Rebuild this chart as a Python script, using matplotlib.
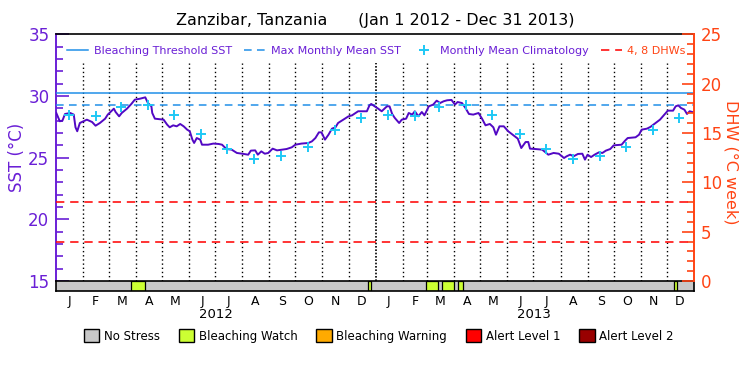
import numpy as np
import matplotlib
matplotlib.use('Agg')
import matplotlib.pyplot as plt
import matplotlib.dates as mdates
from matplotlib.lines import Line2D
from matplotlib.patches import Patch
from matplotlib.ticker import MultipleLocator

# ---------------- data ----------------
title = "Zanzibar, Tanzania      (Jan 1 2012 - Dec 31 2013)"
start_date = np.datetime64('2012-01-01')
end_date = np.datetime64('2014-01-01')

# days since Jan 1 2012 and daily SST (deg C)
sst_days = [0, 4, 7, 10, 16, 20, 22, 24, 27, 31, 35, 41, 45, 50, 56, 59, 63, 66, 68, 72,
            75, 81, 86, 90, 96, 102, 105, 109, 110, 113, 123, 127, 130, 134, 138, 142, 146,
            150, 153, 156, 158, 161, 165, 167, 174, 180, 186, 190, 195, 201, 207, 213, 220,
            223, 228, 231, 235, 239, 243, 248, 253, 259, 264, 270, 274, 281, 289, 293, 297,
            301, 304, 308, 312, 316, 320, 323, 329, 335, 339, 343, 346, 356, 359, 361, 365,
            369, 373, 379, 382, 385, 388, 393, 396, 401, 404, 408, 411, 415, 419, 422, 427,
            432, 436, 440, 444, 448, 453, 457, 460, 465, 469, 473, 478, 484, 488, 492, 497,
            501, 504, 508, 513, 518, 524, 529, 533, 538, 541, 543, 549, 557, 564, 570, 576,
            582, 585, 589, 593, 598, 603, 606, 609, 613, 617, 622, 626, 630, 635, 639, 648,
            652, 655, 664, 668, 671, 677, 681, 687, 692, 696, 701, 707, 710, 713, 716, 720,
            723, 726, 730]
sst_values = [28.62, 27.95, 28.00, 28.54, 28.62, 28.49, 27.46, 27.14, 27.81, 27.95, 28.08,
              27.89, 27.59, 27.81, 28.16, 28.49, 28.76, 28.97, 28.70, 28.35, 28.62, 28.97,
              29.35, 29.70, 29.78, 29.89, 29.43, 29.16, 28.62, 28.16, 28.08, 27.68, 27.46,
              27.62, 27.54, 27.73, 27.54, 27.27, 27.14, 26.46, 26.19, 26.59, 26.46, 26.05,
              26.05, 26.14, 26.11, 26.05, 25.70, 25.65, 25.38, 25.32, 25.24, 25.57, 25.59,
              25.24, 25.51, 25.32, 25.38, 25.73, 25.59, 25.65, 25.70, 25.84, 26.05, 26.14,
              26.19, 26.32, 26.59, 27.05, 27.05, 26.46, 26.86, 27.35, 27.46, 27.81, 28.08,
              28.35, 28.43, 28.62, 28.76, 28.76, 29.24, 29.35, 29.16, 28.97, 28.76, 29.16,
              29.16, 28.54, 28.22, 27.81, 28.08, 28.16, 28.62, 28.49, 28.76, 28.35, 28.70,
              28.43, 29.16, 29.30, 29.62, 29.43, 29.57, 29.65, 29.68, 29.30, 29.51, 29.43,
              29.03, 28.54, 28.49, 28.62, 28.16, 27.62, 27.73, 27.46, 26.86, 27.54, 27.54,
              27.14, 26.81, 26.54, 25.78, 26.27, 26.27, 25.73, 25.70, 25.65, 25.24, 25.38,
              25.32, 24.97, 25.11, 25.24, 25.11, 25.30, 25.32, 24.84, 25.24, 25.05, 25.24,
              25.43, 25.38, 25.57, 25.70, 26.00, 26.05, 26.38, 26.59, 26.65, 26.86, 27.27,
              27.35, 27.49, 27.81, 28.08, 28.41, 28.81, 28.81, 29.16, 29.24, 29.03, 28.89,
              28.54, 28.76, 28.68]

# monthly mean climatology (Jan..Dec)
clim_values = [28.45, 28.40, 29.08, 29.26, 28.44, 26.92, 25.70, 24.87, 25.10, 25.83, 27.28, 28.21]
mmm_sst = 29.26
threshold_sst = 30.26
dhw_levels = [4, 8]

# bleaching alert strip
alert_starts = ['2012-03-27', '2012-12-23', '2013-02-28', '2013-03-18', '2013-04-05', '2013-12-09']
alert_ends = ['2012-04-12', '2012-12-27', '2013-03-14', '2013-04-01', '2013-04-11', '2013-12-13']
alert_levels = ['Bleaching Watch'] * 6

alert_names = ['No Stress', 'Bleaching Watch', 'Bleaching Warning', 'Alert Level 1', 'Alert Level 2']
alert_colors = ['#c8c8c8', '#ccff33', '#ffaa00', '#ff0000', '#990000']

month_labels = ['J', 'F', 'M', 'A', 'M', 'J', 'J', 'A', 'S', 'O', 'N', 'D'] * 2
year_labels = ['2012', '2013']

# ---------------- style ----------------
purple = '#6a1fd6'
line_purple = '#5208c4'
orange = '#ff4414'
blue = '#2090e8'
cyan = '#1ec8f5'
red = '#ff1010'

plt.rcParams['font.family'] = ['DejaVu Sans']

W, H = 750, 375
fig = plt.figure(figsize=(7.5, 3.75), dpi=100)
L, R, T, B = 56.3, 694.0, 34.3, 281.0
SB = 290.5
ax = fig.add_axes([L / W, 1 - B / H, (R - L) / W, (B - T) / H])
strip = fig.add_axes([L / W, 1 - SB / H, (R - L) / W, (SB - B) / H])
ax2 = ax.twinx()

x0 = mdates.date2num(start_date)
x1 = mdates.date2num(end_date)

# SST series
sst_x = mdates.date2num(start_date + np.array(sst_days).astype('timedelta64[D]'))
ax.plot(sst_x, sst_values, color=line_purple, lw=1.4, zorder=5)

# thresholds
ax.axhline(threshold_sst, color=blue, lw=1.1, zorder=3)
ax.axhline(mmm_sst, color=blue, lw=1.1, ls=(0, (5, 3.5)), zorder=3)

# climatology crosses at mid-month
month_starts = np.arange('2012-01', '2014-02', dtype='datetime64[M]').astype('datetime64[D]')
mids = month_starts[:-1] + (month_starts[1:] - month_starts[:-1]) // 2
mids_num = mdates.date2num(mids)
clim_x = mdates.date2num(month_starts[:-1] + np.timedelta64(14, 'D'))
ax.plot(clim_x, clim_values * 2, ls='none', marker='+', ms=7, mew=1.4, color=cyan, zorder=6)

# vertical dotted month lines
bounds = mdates.date2num(month_starts[1:-1])
year_line = mdates.date2num(np.datetime64('2013-01-01'))
ax.vlines([b for b in bounds if b != year_line], 15, 32.7, colors='black', lw=1.0,
          linestyles=(0, (1, 2)), zorder=2)
ax.vlines([year_line], 15, 32.7, colors='black', lw=1.2, linestyles=(0, (1, 1)), zorder=2)

ax.set_xlim(x0, x1)
ax.set_ylim(15, 35)
ax.set_xticks([])
ax.yaxis.set_major_locator(MultipleLocator(5))
ax.yaxis.set_minor_locator(MultipleLocator(1))
ax.tick_params(axis='y', which='both', direction='in', colors=purple, labelsize=12, pad=5)
ax.tick_params(axis='y', which='major', length=9, width=1.2)
ax.tick_params(axis='y', which='minor', length=5, width=1.2)
ax.spines['left'].set_color(purple)
ax.spines['left'].set_linewidth(1.4)
ax.spines['right'].set_visible(False)
ax.spines['top'].set_linewidth(1.2)
ax.spines['bottom'].set_visible(False)

# DHW axis
for lv in dhw_levels:
    ax2.axhline(lv, color=red, lw=1.2, ls=(0, (5, 3.5)))
ax2.set_ylim(0, 25)
ax2.yaxis.set_major_locator(MultipleLocator(5))
ax2.yaxis.set_minor_locator(MultipleLocator(1))
ax2.tick_params(axis='y', which='both', direction='in', colors=orange, labelsize=12, pad=5)
ax2.tick_params(axis='y', which='major', length=9, width=1.2)
ax2.tick_params(axis='y', which='minor', length=5, width=1.2)
for s in ['left', 'top', 'bottom']:
    ax2.spines[s].set_visible(False)
ax2.spines['right'].set_color(orange)
ax2.spines['right'].set_linewidth(1.4)

# top legend
handles = [Line2D([], [], color=blue, lw=1.1),
           Line2D([], [], color=blue, lw=1.1, ls=(0, (5, 3.5))),
           Line2D([], [], ls='none', marker='+', ms=7, mew=1.4, color=cyan),
           Line2D([], [], color=red, lw=1.2, ls=(0, (5, 3.5)))]
labels = ['Bleaching Threshold SST', 'Max Monthly Mean SST', 'Monthly Mean Climatology', '4, 8 DHWs']
leg = ax2.legend(handles, labels, ncol=4, loc='center', bbox_to_anchor=(0.502, (B - 51) / (B - T)),
                 frameon=False, fontsize=8, handlelength=1.9, handletextpad=0.5,
                 columnspacing=1.1, borderpad=0)
for t, c in zip(leg.get_texts(), [purple, purple, purple, orange]):
    t.set_color(c)

# alert strip
strip.axvspan(x0, x1, facecolor=alert_colors[0], edgecolor='none')
for s0, s1, lev in zip(alert_starts, alert_ends, alert_levels):
    strip.axvspan(mdates.date2num(np.datetime64(s0)), mdates.date2num(np.datetime64(s1)),
                  facecolor=alert_colors[alert_names.index(lev)], edgecolor='black', lw=0.9)
strip.set_xlim(x0, x1)
strip.set_ylim(0, 1)
strip.set_yticks([])
strip.set_xticks(mids_num)
strip.set_xticklabels(month_labels, fontsize=9)
strip.tick_params(axis='x', length=0, pad=3.5)
for s in strip.spines.values():
    s.set_linewidth(1.2)
    s.set_color('black')

year_mid = [mdates.date2num(np.datetime64('2012-07-02')), mdates.date2num(np.datetime64('2013-07-02'))]
for xm, yl in zip(year_mid, year_labels):
    strip.annotate(yl, xy=(xm, 0), xycoords=('data', 'axes fraction'), xytext=(0, -24.5 * 0.72),
                   textcoords='offset points', ha='center', va='center', fontsize=9.5)

# bottom legend
phandles = [Patch(facecolor=c, edgecolor='black', lw=1) for c in alert_colors]
fig.legend(phandles, alert_names, ncol=5, loc='center', bbox_to_anchor=(0.505, 1 - 336 / H),
           frameon=False, fontsize=8.5, handlelength=1.3, handleheight=1.2, handletextpad=0.4,
           columnspacing=1.6)

# titles / labels
fig.text(375 / W, 1 - 21 / H, title, ha='center', va='center', fontsize=11.5)
fig.text(17 / W, 1 - 157 / H, 'SST (°C)', rotation=90, ha='center', va='center', fontsize=12, color=purple)
fig.text(731 / W, 1 - 162 / H, 'DHW (°C week)', rotation=-90, ha='center', va='center', fontsize=11.5,
         color=orange)

fig.savefig('out.png', dpi=100)
